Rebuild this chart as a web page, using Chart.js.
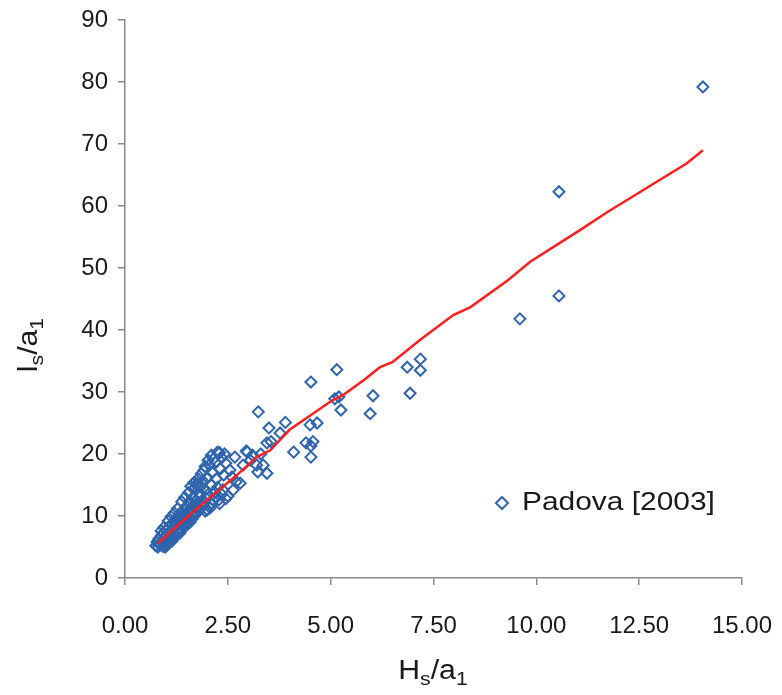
<!DOCTYPE html>
<html>
<head>
<meta charset="utf-8">
<script src="https://cdn.jsdelivr.net/npm/chart.js@4.4.1/dist/chart.umd.min.js"></script>
<style>
  body { margin: 0; background: #fff; }
  #wrap { width: 782px; height: 695px; }
</style>
</head>
<body>
<div id="wrap"><canvas id="myChart"></canvas></div>
<script>
// Padova [2003] measurements: Hs/a1 vs ls/a1
const padovaX = [0.78, 0.82, 0.85, 0.88, 0.9, 0.92, 0.95, 0.97, 1.0, 1.0, 1.02, 1.05, 1.07, 1.1, 1.12, 1.15, 1.17, 1.2, 1.22, 1.25,
  1.27, 1.3, 1.32, 1.35, 1.37, 1.4, 1.42, 1.45, 1.47, 1.5, 1.52, 1.55, 1.57, 1.6, 1.62, 1.65, 1.67, 1.7, 1.72, 1.75,
  1.77, 1.8, 1.82, 1.85, 1.88, 1.9, 1.92, 1.95, 1.98, 2.0, 2.02, 2.05, 2.07, 2.1, 2.12, 2.15, 2.18, 2.2, 2.22, 2.25,
  2.28, 2.3, 2.32, 2.35, 2.38, 2.4, 2.42, 2.45, 2.5, 2.55, 2.6, 2.63, 2.67, 2.7, 2.8, 2.87, 2.95, 2.97, 3.05, 3.1,
  3.2, 3.23, 3.24, 3.3, 3.36, 3.45, 3.45, 3.5, 3.55, 3.77, 3.9, 4.1, 4.4, 4.5, 4.52, 4.52, 4.52, 4.57, 4.67, 5.1,
  5.15, 5.2, 5.25, 5.96, 6.03, 6.86, 6.93, 7.18, 7.18, 9.6, 10.55, 10.55, 14.05,
  0.75, 0.8, 0.86, 0.93, 0.98, 1.03, 1.08, 1.13, 1.18, 1.23, 1.28, 1.33, 1.38, 1.43, 1.48, 1.53, 1.58, 1.63, 1.68, 1.73,
  1.78, 1.83, 1.9, 1.95, 2.0, 2.1, 2.15, 2.2, 2.3, 2.35, 2.45, 0.88, 0.95, 1.05, 1.12, 1.2, 1.28, 1.38, 1.45, 1.55,
  1.6, 1.68, 1.78, 1.85, 1.95, 2.02, 2.1, 2.25, 1.15, 1.0];
const padovaY = [5.8, 6.3, 5.5, 6.8, 5.9, 7.2, 6.4, 5.6, 7.6, 6.9, 6.0, 8.1, 7.3, 6.6, 8.6, 7.8, 7.0, 9.2, 8.3, 7.5,
  9.8, 8.8, 8.0, 10.4, 9.4, 8.5, 11.0, 10.0, 9.1, 11.6, 10.6, 9.6, 12.3, 11.2, 10.2, 13.0, 11.8, 14.5, 12.5, 15.2,
  11.5, 13.8, 13.1, 14.8, 12.2, 15.6, 17.4, 14.2, 12.8, 16.2, 13.5, 18.2, 11.3, 15.0, 17.0, 19.2, 13.8, 18.7, 16.0, 14.6,
  12.6, 20.2, 17.6, 19.4, 14.2, 16.6, 20.0, 18.5, 13.2, 17.4, 16.3, 14.2, 19.5, 15.5, 15.3, 18.2, 20.5, 20.3, 19.0, 19.8,
  18.2, 17.1, 26.8, 20.0, 18.2, 16.9, 21.8, 24.2, 22.0, 23.4, 25.1, 20.3, 21.8, 24.7, 31.6, 21.3, 19.5, 22.0, 25.0, 28.9,
  33.6, 29.2, 27.1, 26.5, 29.4, 34.0, 29.8, 35.3, 33.5, 41.8, 45.5, 62.3, 79.2,
  5.2, 5.0, 5.3, 5.1, 5.0, 5.4, 5.9, 6.2, 6.5, 6.9, 7.3, 7.2, 7.8, 8.2, 8.4, 8.9, 9.0, 9.5, 10.0, 10.4,
  10.8, 11.2, 11.6, 10.8, 11.0, 12.0, 12.5, 13.0, 12.0, 13.5, 12.8, 7.6, 8.2, 9.2, 9.9, 10.5, 11.2, 12.3, 13.0, 13.8,
  14.8, 15.4, 16.0, 16.8, 18.0, 19.0, 19.8, 20.3, 6.0, 5.3];

// fitted curve (red)
const fitX = [0.8, 1.5, 2.0, 2.72, 3.2, 3.53, 4.0, 5.05, 5.3, 5.8, 6.2, 6.5, 7.17, 7.98, 8.4, 9.3, 9.85, 11.06, 11.72, 13.66, 14.05];
const fitY = [5.6, 9.8, 12.6, 16.6, 19.5, 20.6, 23.9, 28.7, 29.5, 31.9, 34.0, 34.8, 38.4, 42.4, 43.7, 48.0, 51.0, 56.1, 59.0, 66.9, 69.0];

const xTicks = [0, 2.5, 5, 7.5, 10, 12.5, 15];
const yTicks = [0, 10, 20, 30, 40, 50, 60, 70, 80, 90];

const blue = '#2f64ad';
const red = '#ff1f1f';
const axisGray = '#8a8a8a';
const fontFam = '"Liberation Sans", Arial, sans-serif';

const padovaPts = padovaX.map((x, i) => ({ x: x, y: padovaY[i] }));
const fitPts = fitX.map((x, i) => ({ x: x, y: fitY[i] }));

// draws the axis titles with subscripts and the inside legend
const extras = {
  id: 'extras',
  afterDraw(chart) {
    const ctx = chart.ctx;
    ctx.save();
    ctx.fillStyle = '#1a1a1a';
    ctx.textBaseline = 'alphabetic';

    function subText(parts, x, y, stretch) {
      // parts: [text, isSub]
      ctx.save();
      ctx.translate(x, y);
      ctx.scale(stretch, 1);
      let w = 0;
      parts.forEach(p => {
        ctx.font = (p[1] ? '19px ' : '27px ') + fontFam;
        w += ctx.measureText(p[0]).width;
      });
      let cx = -w / 2;
      parts.forEach(p => {
        ctx.font = (p[1] ? '19px ' : '27px ') + fontFam;
        ctx.fillText(p[0], cx, p[1] ? 6 : 0);
        cx += ctx.measureText(p[0]).width;
      });
      ctx.restore();
    }

    // x title
    subText([['H', 0], ['s', 1], ['/a', 0], ['1', 1]], 433, 679, 1.12);

    // y title
    ctx.save();
    ctx.translate(37, 345);
    ctx.rotate(-Math.PI / 2);
    subText([['l', 0], ['s', 1], ['/a', 0], ['1', 1]], 0, 0, 1.12);
    ctx.restore();

    // legend
    ctx.strokeStyle = blue;
    ctx.lineWidth = 2;
    ctx.beginPath();
    ctx.moveTo(502, 497); ctx.lineTo(508, 503); ctx.lineTo(502, 509); ctx.lineTo(496, 503); ctx.closePath();
    ctx.stroke();
    ctx.save();
    ctx.translate(522, 503);
    ctx.scale(1.15, 1);
    ctx.font = '26px ' + fontFam;
    ctx.textBaseline = 'middle';
    ctx.fillStyle = '#1a1a1a';
    ctx.fillText('Padova [2003]', 0, 0);
    ctx.restore();
    ctx.restore();
  }
};

const data = {
  datasets: [{
    label: 'Padova [2003]',
    type: 'scatter',
    data: padovaPts,
    pointStyle: 'rectRot',
    pointRadius: 5.5,
    pointBorderWidth: 2,
    borderColor: blue,
    backgroundColor: 'rgba(255,255,255,0)',
    order: 2
  },
  {
    label: 'fit',
    type: 'line',
    data: fitPts,
    borderColor: red,
    borderWidth: 2.5,
    pointRadius: 0,
    fill: false,
    tension: 0,
    order: 1
  }]
};

const config = {
  type: 'scatter',
  data: data,
  plugins: [extras],
  options: {
    responsive: true,
    maintainAspectRatio: false,
    animation: false,
    layout: { padding: { left: 0, right: 40, top: 20, bottom: 0 } },
    plugins: {
      legend: { display: false },
      tooltip: { enabled: false }
    },
    scales: {
      x: {
        type: 'linear',
        min: 0,
        max: 15,
        afterFit: (scale) => { scale.height = 117; scale.paddingLeft = 0; scale.paddingRight = 0; },
        afterBuildTicks: (scale) => { scale.ticks = xTicks.map(v => ({ value: v })); },
        ticks: {
          callback: (v) => v.toFixed(2),
          color: '#1a1a1a',
          font: { family: fontFam, size: 24 },
          padding: 27,
          maxRotation: 0
        },
        grid: { drawOnChartArea: false, drawTicks: true, tickLength: 7, color: axisGray, lineWidth: 1.5 },
        border: { color: axisGray, width: 1.5 }
      },
      y: {
        type: 'linear',
        min: 0,
        max: 90,
        afterFit: (scale) => { scale.width = 125; scale.paddingTop = 0; scale.paddingBottom = 0; },
        afterBuildTicks: (scale) => { scale.ticks = yTicks.map(v => ({ value: v })); },
        ticks: {
          color: '#1a1a1a',
          font: { family: fontFam, size: 24 },
          padding: 10
        },
        grid: { drawOnChartArea: false, drawTicks: true, tickLength: 7, color: axisGray, lineWidth: 1.5 },
        border: { color: axisGray, width: 1.5 }
      }
    }
  }
};

let canvasChart = document.getElementById('myChart');
const myChart = new Chart(canvasChart, config);
</script>
</body>
</html>
